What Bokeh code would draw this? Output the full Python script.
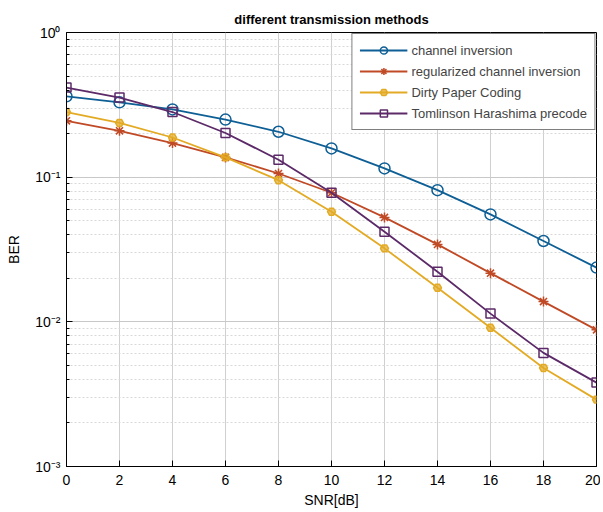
from bokeh.plotting import figure
from bokeh.models import FixedTicker, Legend, LegendItem
from bokeh.embed import file_html
from bokeh.resources import INLINE

snr = [0, 2, 4, 6, 8, 10, 12, 14, 16, 18, 20]
ber_ci = [0.362, 0.329, 0.294, 0.250, 0.206, 0.158, 0.115, 0.0813, 0.0553, 0.0362, 0.0237]
ber_rci = [0.245, 0.209, 0.172, 0.137, 0.106, 0.078, 0.0527, 0.0343, 0.0217, 0.0138, 0.0088]
ber_dpc = [0.282, 0.237, 0.188, 0.137, 0.0953, 0.0577, 0.0322, 0.0172, 0.0091, 0.0048, 0.0029]
ber_thp = [0.416, 0.355, 0.282, 0.202, 0.132, 0.078, 0.042, 0.0222, 0.0114, 0.0061, 0.0038]

names = ["channel inversion", "regularized channel inversion",
         "Dirty Paper Coding", "Tomlinson Harashima precode"]
x_ticks = [0, 2, 4, 6, 8, 10, 12, 14, 16, 18, 20]
y_ticks = [0.001, 0.01, 0.1, 1.0]
y_tick_labels = ["10\u207b\u00b3", "10\u207b\u00b2", "10\u207b\u00b9", "10\u2070"]
y_minor = [m * d for d in [0.001, 0.01, 0.1] for m in range(2, 10)]

FONT = "Liberation Sans"

p = figure(width=600, height=510, y_axis_type="log", x_range=(0, 20), y_range=(0.001, 1.0),
           output_backend="svg", toolbar_location=None,
           title="different transmission methods",
           min_border_left=66, min_border_right=4, min_border_top=32, min_border_bottom=4)

p.title.align = "center"
p.title.text_font = FONT
p.title.text_font_size = "13px"
p.title.text_font_style = "bold"
p.title.text_color = "black"
p.title.standoff = 12

p.xaxis.ticker = FixedTicker(ticks=x_ticks)
p.yaxis.ticker = FixedTicker(ticks=y_ticks, minor_ticks=y_minor)
p.yaxis.major_label_overrides = {t: l for t, l in zip(y_ticks, y_tick_labels)}

for ax in (p.xaxis[0], p.yaxis[0]):
    ax.major_tick_in = 6
    ax.major_tick_out = 0
    ax.minor_tick_in = 3
    ax.minor_tick_out = 0
    ax.major_label_text_font = FONT
    ax.major_label_text_font_size = "14px"
    ax.major_label_text_color = "black"
    ax.axis_label_text_font = FONT
    ax.axis_label_text_font_size = "14px"
    ax.axis_label_text_font_style = "normal"
    ax.axis_label_text_color = "black"
    ax.axis_line_color = "black"
    ax.major_tick_line_color = "black"
    ax.minor_tick_line_color = "black"
p.xaxis.axis_label = "SNR[dB]"
p.yaxis.axis_label = "BER"
p.xaxis.major_label_standoff = 8
p.xaxis.axis_label_standoff = 4
p.yaxis.major_label_standoff = 6
p.yaxis.axis_label_standoff = 10

p.outline_line_color = "black"
p.outline_line_width = 1

p.xgrid.grid_line_color = "#d0d0d0"
p.ygrid.grid_line_color = "#c8c8c8"
p.ygrid.minor_grid_line_color = "#d8d8d8"
p.ygrid.minor_grid_line_dash = "2 2"

colors = ["#0e5f95", "#c04a26", "#e3aa24", "#5c2a68"]
series = [ber_ci, ber_rci, ber_dpc, ber_thp]
markers = ["circle", "asterisk", "hex", "square"]
sizes = [11, 10, 8, 9]

items = []
for name, ys, col, mk, sz in zip(names, series, colors, markers, sizes):
    ln = p.line(snr, ys, line_color=col, line_width=1.8)
    if mk == "hex":
        sc = p.scatter(snr, ys, marker=mk, size=sz, line_color=col, fill_color=col,
                       fill_alpha=0.7, line_width=1.5)
    else:
        sc = p.scatter(snr, ys, marker=mk, size=sz, line_color=col, fill_alpha=0,
                       line_width=1.5)
    items.append(LegendItem(label=name, renderers=[ln, sc]))

legend = Legend(items=items, location="top_right")
legend.margin = 1
legend.padding = 7
legend.spacing = 3
legend.glyph_width = 48
legend.glyph_height = 18
legend.label_text_font = FONT
legend.label_text_font_size = "13px"
legend.label_standoff = 4
legend.border_line_color = "black"
legend.border_line_width = 1
legend.background_fill_alpha = 1
p.add_layout(legend)

open("out.html", "w").write(file_html(p, INLINE))
